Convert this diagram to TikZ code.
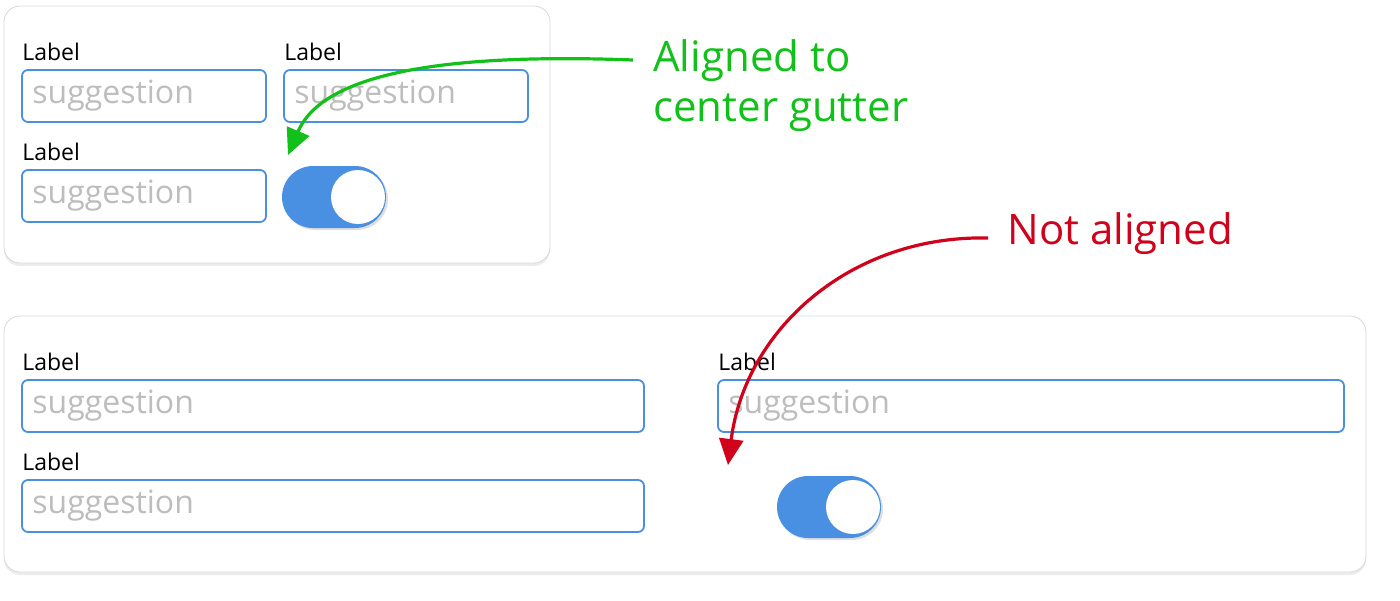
\documentclass[tikz,border=0pt]{standalone}
\usepackage{fontspec}
\setmainfont{Open Sans}
\usetikzlibrary{shadows,arrows.meta}
\definecolor{fieldblue}{HTML}{4A90E2}
\definecolor{hintgray}{HTML}{BDBDBD}
\definecolor{okgreen}{HTML}{11C11A}
\definecolor{badred}{HTML}{D0021B}
\tikzset{
  card/.style={draw=black!15,fill=white,rounded corners=8pt,drop shadow={shadow xshift=0pt,shadow yshift=-1.5pt,opacity=.15}},
  field/.style={draw=fieldblue,line width=0.9pt,rounded corners=3pt},
  lbl/.style={anchor=west,font=\fontsize{11.5}{13}\selectfont,inner sep=0pt},
  hint/.style={anchor=west,text=hintgray,font=\fontsize{16}{18}\selectfont,inner sep=0pt},
  note/.style={anchor=west,align=left,font=\fontsize{21}{25}\selectfont,inner sep=0pt},
}
\newcommand{\textfield}[5]{% name, x1, y1, x2, y2
  \draw[field] (#2,#3) rectangle (#4,#5);
  \node[hint] (#1) at (#2+10,{(#3+#5)/2}) {suggestion};}
\newcommand{\toggle}[3]{% name, x, y (centre)
  \fill[fieldblue,rounded corners=15.5pt,drop shadow={shadow xshift=1pt,shadow yshift=-1pt,opacity=.25}] (#2-52,#3-31) rectangle (#2+52,#3+31);
  \node[circle,fill=white,minimum size=27pt,inner sep=0pt] (#1) at (#2+24,#3) {};}
\begin{document}
\begin{tikzpicture}[x=0.5pt,y=-0.5pt]
  \useasboundingbox (0,0) rectangle (1400,600);
  % top card
  \draw[card] (4,6) rectangle (550,263);
  \node[lbl] (la) at (22,52) {Label};
  \node[lbl] (lb) at (284,52) {Label};
  \node[lbl] (lc) at (22,152) {Label};
  \textfield{fa}{22}{70}{266}{122}
  \textfield{fb}{284}{70}{528}{122}
  \textfield{fc}{22}{170}{266}{222}
  \toggle{ta}{334}{197}
  % bottom card
  \draw[card] (4,316) rectangle (1366,572);
  \node[lbl] (ld) at (22,362) {Label};
  \node[lbl] (le) at (718,362) {Label};
  \node[lbl] (lf) at (22,462) {Label};
  \textfield{fd}{22}{380}{644}{432}
  \textfield{fe}{718}{380}{1344}{432}
  \textfield{ff}{22}{480}{644}{532}
  \toggle{tb}{829}{507}
  % notes
  \node[note,text=okgreen] (good) at (653,86) {Aligned to\\center gutter};
  \node[note,text=badred] (bad) at (1007,234) {Not aligned};
  \coordinate (gtip) at (288,155);
  \coordinate (rtip) at (728,465);
  \draw[okgreen,line width=1.6pt,-{Triangle[length=13pt,width=12pt]}] (633,60) .. controls (420,52) and (320,80) .. (gtip);
  \draw[badred,line width=1.6pt,-{Triangle[length=13pt,width=12pt]}] (988,238) .. controls (850,235) and (745,330) .. (rtip);
\end{tikzpicture}
\end{document}
